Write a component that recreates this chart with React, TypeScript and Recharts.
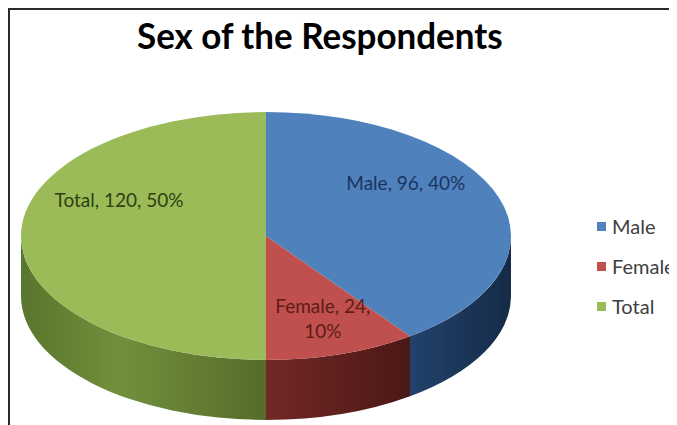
import React from 'react';
import { PieChart, Pie, Cell, Legend } from 'recharts';

const categories = ['Male', 'Female', 'Total'];
const counts = [96, 24, 120];
const percents = [40, 10, 50];
const TITLE = 'Sex of the Respondents';

const data = categories.map((name, i) => ({ name, value: counts[i], pct: percents[i] }));

const TOP = ['#4F81BD', '#C0504D', '#9BBB59'];
const SIDE_STOPS: [number, string][][] = [
  [[0, '#22426b'], [1, '#152b47']],
  [[0, '#732826'], [1, '#4a1816']],
  [[0, '#5a752d'], [0.4, '#72903c'], [1, '#556c2a']],
];
const TEXT = ['#1b3560', '#5e1b19', '#2c3f12'];

const TILT = 0.506;
const DEPTH = 60;
const RAD = Math.PI / 180;
const FONT = 'Lato, "Open Sans", sans-serif';

const renderSlice = (p: any) => {
  const { cx, cy, outerRadius, startAngle, endAngle, index } = p;
  const rx = outerRadius;
  const ry = outerRadius * TILT;
  const pt = (a: number, dy = 0) => `${cx + rx * Math.cos(a * RAD)},${cy - ry * Math.sin(a * RAD) + dy}`;
  const hi = Math.max(startAngle, endAngle);
  const lo = Math.min(startAngle, endAngle);
  const large = hi - lo > 180 ? 1 : 0;
  const top = `M${cx},${cy} L${pt(hi)} A${rx},${ry} 0 ${large} 1 ${pt(lo)} Z`;
  const h = Math.min(hi, 0);
  const l = Math.max(lo, -180);
  let side: string | null = null;
  if (l < h) {
    side = `M${pt(h)} A${rx},${ry} 0 0 1 ${pt(l)} L${pt(l, DEPTH)} A${rx},${ry} 0 0 0 ${pt(h, DEPTH)} Z`;
  }
  const gid = `side-grad-${index}`;
  return (
    <g key={`slice-${index}`}>
      <defs>
        <linearGradient id={gid} x1="0" y1="0" x2="1" y2="0">
          {SIDE_STOPS[index].map(([o, c], k) => (
            <stop key={k} offset={o} stopColor={c} />
          ))}
        </linearGradient>
      </defs>
      {side && <path d={side} fill={`url(#${gid})`} stroke="none" />}
      <path d={top} fill={TOP[index]} stroke="none" />
    </g>
  );
};

const renderText = (p: any) => {
  const { cx, cy, outerRadius, midAngle, index, payload } = p;
  const rx = outerRadius;
  const ry = outerRadius * TILT;
  const small = p.percent < 0.2;
  const kx = small ? 0.75 : 0.6;
  const ky = small ? 0.95 : 0.45;
  const x = cx + kx * rx * Math.cos(midAngle * RAD);
  const y = cy - ky * ry * Math.sin(midAngle * RAD) - (small ? 31 : 36);
  const name = payload.name;
  const v = payload.value;
  const pc = `${payload.pct}%`;
  const common = {
    textAnchor: 'middle' as const,
    fill: TEXT[index],
    fontFamily: FONT,
    fontSize: 19,
  };
  if (small) {
    return (
      <text key={`t-${index}`} x={x} y={y} {...common}>
        <tspan x={x} dy={-4}>{`${name}, ${v},`}</tspan>
        <tspan x={x} dy={25}>{pc}</tspan>
      </text>
    );
  }
  return (
    <text key={`t-${index}`} x={x} y={y} dy={7} {...common}>
      {`${name}, ${v}, ${pc}`}
    </text>
  );
};

const LegendContent = () => {
  return (
    <div style={{ fontFamily: FONT, fontSize: 20, color: '#404040' }}>
      {categories.map((name, i) => (
        <div key={name} style={{ display: 'flex', alignItems: 'center', height: 40, whiteSpace: 'nowrap' }}>
          <span style={{ display: 'inline-block', width: 9, height: 9, background: TOP[i], marginRight: 6 }} />
          <span>{name}</span>
        </div>
      ))}
    </div>
  );
};

export default function App() {
  return (
    <div style={{ position: 'relative', width: 669, height: 417, background: '#fff', overflow: 'hidden' }}>
      <div style={{ position: 'absolute', left: 0, top: 0, width: 669, height: 2, background: '#2a2a2a' }} />
      <div style={{ position: 'absolute', left: 0, top: 0, width: 2, height: 417, background: '#2a2a2a' }} />
      <div
        style={{
          position: 'absolute',
          left: 129,
          top: 4,
          fontFamily: FONT,
          fontWeight: 700,
          fontSize: 37,
          color: '#000',
          whiteSpace: 'nowrap',
          lineHeight: '46px',
          transform: 'scaleX(0.945)',
          transformOrigin: 'left center',
        }}
      >
        {TITLE}
      </div>
      <div style={{ position: 'absolute', left: 0, top: 0 }}>
        <PieChart width={669} height={417} margin={{ top: 0, right: 0, bottom: 0, left: 0 }}>
          <Pie
            data={data}
            dataKey="value"
            nameKey="name"
            cx={258}
            cy={228}
            outerRadius={245}
            startAngle={90}
            endAngle={-270}
            isAnimationActive={false}
            label={renderSlice}
            labelLine={false}
            stroke="none"
          >
            {data.map((d) => (
              <Cell key={d.name} fill="transparent" />
            ))}
          </Pie>
          <Pie
            data={data}
            dataKey="value"
            nameKey="name"
            cx={258}
            cy={228}
            outerRadius={245}
            startAngle={90}
            endAngle={-270}
            isAnimationActive={false}
            label={renderText}
            labelLine={false}
            legendType="none"
            stroke="none"
          >
            {data.map((d) => (
              <Cell key={d.name} fill="transparent" />
            ))}
          </Pie>
          <Legend
            layout="vertical"
            align="right"
            verticalAlign="middle"
            content={LegendContent}
            wrapperStyle={{ left: 589, top: 198, width: 90, right: 'auto', bottom: 'auto' }}
          />
        </PieChart>
      </div>
    </div>
  );
}
